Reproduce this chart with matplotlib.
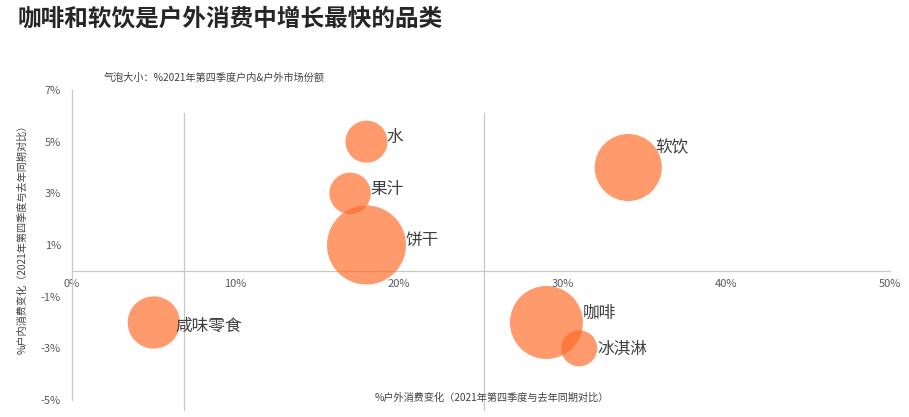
import matplotlib
matplotlib.use('Agg')
import matplotlib.pyplot as plt
import numpy as np

plt.rcParams['font.family'] = ['Noto Sans CJK SC', 'DejaVu Sans']

# data
categories = ['水', '果汁', '饼干', '软饮', '咸味零食', '咖啡', '冰淇淋']
outdoor_change = [18, 17, 18, 34, 5, 29, 31]      # % x axis
indoor_change = [5, 3, 1, 4, -2, -2, -3]          # % y axis
market_share = [6.8, 6.6, 24, 17.3, 10.5, 20.5, 5]  # bubble size

x_ticks = [0, 10, 20, 30, 40, 50]
y_ticks = [-5, -3, -1, 1, 3, 5, 7]

# label nudges (points), styling only
label_dx = [-1, 0, 0, -5, -3, -0.5, 0]
label_dy = [3, 3, 3, 14, -3, 7, -1]

fig = plt.figure(figsize=(9.09, 4.17), dpi=100)
ax = fig.add_axes([72 / 909, 17 / 417, 818 / 909, 310 / 417])

# bubble area ~ share; 饼干 radius ~39.5px at 100 dpi
k = (2 * 39.5 * 0.72) ** 2 / 24
sizes = [s * k for s in market_share]
ax.scatter(outdoor_change, indoor_change, s=sizes, color='#FF6A28', alpha=0.68,
           linewidths=0, zorder=3, clip_on=False)

for name, x, y, s, dx, dy in zip(categories, outdoor_change, indoor_change, sizes,
                                  label_dx, label_dy):
    r_pt = np.sqrt(s) / 2
    ax.annotate(name, (x, y), xytext=(r_pt + dx, dy), textcoords='offset points',
                fontsize=12, color='#404040', va='center', ha='left', zorder=4)

ax.set_xlim(0, 50)
ax.set_ylim(-5, 7)
ax.set_xticks(x_ticks)
ax.set_xticklabels([f'{v}%' for v in x_ticks])
ax.set_yticks(y_ticks)
ax.set_yticklabels([f'{v}%' for v in y_ticks])
ax.tick_params(length=0, labelsize=8, labelcolor='#595959')
ax.tick_params(axis='x', pad=6)
ax.tick_params(axis='y', pad=8)

for side in ['top', 'right']:
    ax.spines[side].set_visible(False)
ax.spines['bottom'].set_position(('data', 0))
ax.spines['bottom'].set_color('#C8C8C8')
ax.spines['left'].set_color('#C8C8C8')
ax.spines['bottom'].set_linewidth(0.9)
ax.spines['left'].set_linewidth(0.9)

# decorative divider lines
for xd in [6.85, 25.2]:
    ax.plot([xd, xd], [0.926, -0.032], color='#C8C8C8', lw=0.9,
            transform=ax.get_xaxis_transform(), clip_on=False, zorder=1)

ax.text(0.513, 0.006, '%户外消费变化（2021年第四季度与去年同期对比）',
        transform=ax.transAxes, ha='center', va='center', fontsize=7.3, color='#404040')
fig.text(22 / 909, 1 - 237 / 417, '%户内消费变化（2021年第四季度与去年同期对比）',
         rotation=90, ha='center', va='center', fontsize=7.3, color='#404040')
fig.text(104 / 909, 1 - 78 / 417, '气泡大小：%2021年第四季度户内&户外市场份额',
         ha='left', va='center', fontsize=7.3, color='#404040')
fig.text(18 / 909, 1 - 19 / 417, '咖啡和软饮是户外消费中增长最快的品类',
         ha='left', va='center', fontsize=17, fontweight='bold', color='#262626')

fig.savefig('out.png', dpi=100)
